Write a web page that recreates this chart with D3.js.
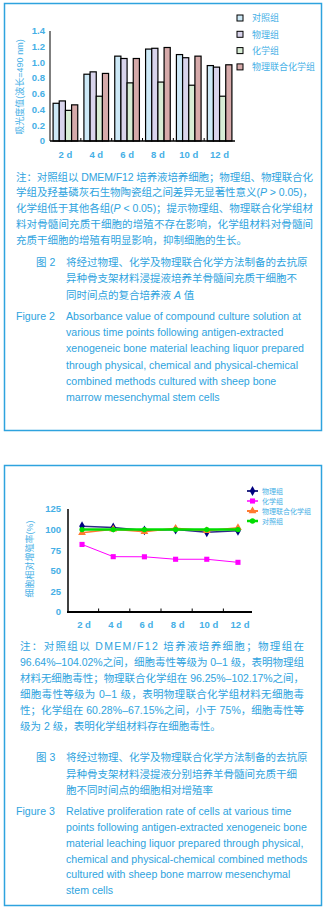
<!DOCTYPE html>
<html>
<head>
<meta charset="utf-8">
<script src="https://cdn.jsdelivr.net/npm/d3@7"></script>
<style>
body { margin: 0; background: #fff; }
</style>
</head>
<body>
<script>
var W = 327, H = 913;

// Figure 2: absorbance (bars)
var days = ["2 d", "4 d", "6 d", "8 d", "10 d", "12 d"];
var barGroups = ["对照组", "物理组", "化学组", "物理联合化学组"];
var ctrlAbs = [0.48, 0.85, 1.08, 1.17, 1.10, 0.96];
var physAbs = [0.51, 0.88, 1.05, 1.18, 1.06, 0.94];
var chemAbs = [0.39, 0.57, 0.74, 0.75, 0.71, 0.57];
var combAbs = [0.46, 0.86, 1.05, 1.19, 1.08, 0.97];
var absTicks = [0, 0.2, 0.4, 0.6, 0.8, 1.0, 1.2, 1.4];

// Figure 3: relative proliferation rate (lines)
var lineGroups = ["物理组", "化学组", "物理联合化学组", "对照组"];
var physRate = [104.02, 102.5, 99, 100, 96.64, 98.5];
var chemRate = [82, 67.15, 67, 64, 64, 60.28];
var combRate = [96.25, 100.5, 97.5, 101.5, 98.5, 102.17];
var ctrlRate = [100, 100, 100, 100, 100, 100];
var rateTicks = [0, 25, 50, 75, 100, 125];

var blue = "#2ea3de";
var tickBlue = "#45afe6";
var barColors = ["#cde9f7", "#d9d4ec", "#d8edd5", "#d6aaaa"];
var lineColors = ["#2b2b85", "#ff00ff", "#ff7a30", "#00dd00"];
var markColors = ["#000080", "#ff00ff", "#ff7a30", "#00dd00"];
var cn = "'Liberation Sans', 'Noto Sans CJK SC', sans-serif";
var en = "'Liberation Sans', Arial, sans-serif";

var svg = d3.select("body").append("svg")
    .attr("width", W)
    .attr("height", H);

// frames
svg.append("rect").attr("x", 4.5).attr("y", 3.5).attr("width", 317).attr("height", 427)
    .attr("fill", "none").attr("stroke", blue).attr("stroke-width", 1.5);
svg.append("rect").attr("x", 4.5).attr("y", 465.5).attr("width", 317).attr("height", 440)
    .attr("fill", "none").attr("stroke", blue).attr("stroke-width", 1.5);

// ---------- chart 1 ----------
var x0 = d3.scaleBand().domain(days).range([50, 235]).paddingInner(0.2).paddingOuter(0.1);
var x1 = d3.scaleBand().domain(barGroups).range([0, x0.bandwidth()]);
var y1 = d3.scaleLinear().domain([0, 1.4]).range([141, 31]);

var absSeries = [ctrlAbs, physAbs, chemAbs, combAbs];
var barData = [];
days.forEach(function(d, i) {
  barGroups.forEach(function(g, j) {
    barData.push({ day: d, group: g, v: absSeries[j][i], c: barColors[j] });
  });
});

svg.selectAll("rect.bar").data(barData).enter()
  .append("rect")
    .attr("class", "bar")
    .attr("x", function(d) { return x0(d.day) + x1(d.group); })
    .attr("width", x1.bandwidth())
    .attr("y", function(d) { return y1(d.v); })
    .attr("height", function(d) { return y1(0) - y1(d.v); })
    .attr("fill", function(d) { return d.c; })
    .attr("stroke", "#000")
    .attr("stroke-width", 1.2);

// axes
svg.append("line").attr("x1", 50).attr("x2", 50).attr("y1", 31).attr("y2", 141)
    .attr("stroke", "#000").attr("stroke-width", 1);
svg.append("line").attr("x1", 50).attr("x2", 235).attr("y1", 141).attr("y2", 141)
    .attr("stroke", "#000").attr("stroke-width", 1.5);
var step1 = x0.step();
days.slice(1).forEach(function(d) {
  var bx = x0(d) - step1 * 0.1;
  svg.append("line").attr("x1", bx).attr("x2", bx).attr("y1", 141).attr("y2", 138)
      .attr("stroke", "#000").attr("stroke-width", 1);
});

svg.selectAll("text.ytick1").data(absTicks).enter()
  .append("text")
    .attr("class", "ytick1")
    .attr("x", 45)
    .attr("y", function(d) { return y1(d); })
    .attr("dy", "0.35em")
    .attr("text-anchor", "end")
    .style("font", "bold 9.5px " + en)
    .style("fill", tickBlue)
    .text(function(d) { return d === 0 ? "0" : d3.format(".1f")(d); });

svg.selectAll("text.xtick1").data(days).enter()
  .append("text")
    .attr("class", "xtick1")
    .attr("x", function(d) { return x0(d) + x0.bandwidth() / 2; })
    .attr("y", 157.5)
    .attr("text-anchor", "middle")
    .style("font", "bold 9.5px " + en)
    .style("fill", tickBlue)
    .text(function(d) { return d; });

svg.append("text")
    .attr("transform", "translate(23,87) rotate(-90)")
    .attr("text-anchor", "middle")
    .style("font", "9px " + cn)
    .style("fill", tickBlue)
    .text("吸光度值(波长=490 nm)");

// legend 1
var leg1 = svg.selectAll("g.leg1").data(barGroups).enter()
  .append("g")
    .attr("class", "leg1")
    .attr("transform", function(d, i) { return "translate(237," + (18 + i * 16.3) + ")"; });
leg1.append("rect").attr("x", 0).attr("y", -3).attr("width", 6).attr("height", 6)
    .attr("fill", function(d, i) { return barColors[i]; })
    .attr("stroke", "#000").attr("stroke-width", 1);
leg1.append("text").attr("x", 15).attr("y", 3.2)
    .style("font", "9px " + cn).style("fill", tickBlue)
    .text(function(d) { return d; });

// ---------- chart 2 ----------
var xp = d3.scalePoint().domain(days).range([68, 252]).padding(0.45);
var y2 = d3.scaleLinear().domain([0, 125]).range([612, 509]);

svg.append("line").attr("x1", 68).attr("x2", 68).attr("y1", 509).attr("y2", 612)
    .attr("stroke", "#000").attr("stroke-width", 1.5);
svg.append("line").attr("x1", 67).attr("x2", 252).attr("y1", 612).attr("y2", 612)
    .attr("stroke", "#000").attr("stroke-width", 2);
days.slice(1).forEach(function(d, i) {
  var bx = (xp(days[i]) + xp(d)) / 2 + 1;
  svg.append("line").attr("x1", bx).attr("x2", bx).attr("y1", 612).attr("y2", 608.5)
      .attr("stroke", "#000").attr("stroke-width", 1);
});

svg.selectAll("text.ytick2").data(rateTicks).enter()
  .append("text")
    .attr("class", "ytick2")
    .attr("x", 61)
    .attr("y", function(d) { return y2(d); })
    .attr("dy", "0.35em")
    .attr("text-anchor", "end")
    .style("font", "bold 9.5px " + en)
    .style("fill", tickBlue)
    .text(function(d) { return d; });

svg.selectAll("text.xtick2").data(days).enter()
  .append("text")
    .attr("class", "xtick2")
    .attr("x", function(d) { return xp(d) + 2; })
    .attr("y", 627.5)
    .attr("text-anchor", "middle")
    .style("font", "bold 9.5px " + en)
    .style("fill", tickBlue)
    .text(function(d) { return d; });

svg.append("text")
    .attr("transform", "translate(33,559) rotate(-90)")
    .attr("text-anchor", "middle")
    .style("font", "9px " + cn)
    .style("fill", tickBlue)
    .text("细胞相对增殖率(%)");

var rateSeries = [physRate, chemRate, combRate, ctrlRate];
var symbols = [d3.symbolDiamond, d3.symbolSquare, d3.symbolTriangle, d3.symbolCircle];
var symSize = [28, 26, 26, 22];
var lineW = [1.5, 1, 1.5, 2.5];
var line = d3.line()
    .x(function(d, i) { return xp(days[i]); })
    .y(function(d) { return y2(d); });

rateSeries.forEach(function(s, k) {
  svg.append("path")
      .attr("d", line(s))
      .attr("fill", "none")
      .attr("stroke", lineColors[k])
      .attr("stroke-width", lineW[k]);
  svg.selectAll("path.mk" + k).data(s).enter()
    .append("path")
      .attr("class", "mk" + k)
      .attr("transform", function(d, i) { return "translate(" + xp(days[i]) + "," + y2(d) + ")"; })
      .attr("d", d3.symbol().type(symbols[k]).size(symSize[k]))
      .attr("fill", markColors[k]);
});

// legend 2
var leg2 = svg.selectAll("g.leg2").data(lineGroups).enter()
  .append("g")
    .attr("class", "leg2")
    .attr("transform", function(d, i) { return "translate(247," + (491 + i * 10) + ")"; });
leg2.append("line").attr("x1", 0).attr("x2", 11).attr("y1", 0).attr("y2", 0)
    .attr("stroke", function(d, i) { return lineColors[i]; })
    .attr("stroke-width", function(d, i) { return Math.min(lineW[i] + 0.5, 2.5); });
leg2.append("path")
    .attr("transform", "translate(5.5,0)")
    .attr("d", function(d, i) { return d3.symbol().type(symbols[i]).size(symSize[i])(); })
    .attr("fill", function(d, i) { return markColors[i]; });
leg2.append("text").attr("x", 15).attr("y", 2.5)
    .style("font", "7px " + cn).style("fill", tickBlue)
    .text(function(d) { return d; });

// ---------- texts ----------
// segments between "_" are italic
function para(lines, x, y0, lh, font, right) {
  lines.forEach(function(str, i) {
    var t = svg.append("text")
        .attr("x", x)
        .attr("y", y0 + i * lh)
        .style("font", font)
        .style("fill", blue);
    str.split("_").forEach(function(s, k) {
      if (!s) return;
      t.append("tspan").style("font-style", k % 2 ? "italic" : "normal").text(s);
    });
    if (right && i < lines.length - 1) {
      t.attr("textLength", right - x).attr("lengthAdjust", "spacing");
    }
  });
}

var note2 = [
  "注：对照组以 DMEM/F12 培养液培养细胞；物理组、物理联合化",
  "学组及羟基磷灰石生物陶瓷组之间差异无显著性意义(_P_ > 0.05)，",
  "化学组低于其他各组(_P_ < 0.05)；提示物理组、物理联合化学组材",
  "料对骨髓间充质干细胞的增殖不存在影响，化学组材料对骨髓间",
  "充质干细胞的增殖有明显影响，抑制细胞的生长。"
];
para(note2, 16, 180.5, 15.9, "10.5px " + cn, 313);

svg.append("text").attr("x", 36).attr("y", 266).style("font", "10.5px " + cn).style("fill", blue).text("图 2");
para([
  "将经过物理、化学及物理联合化学方法制备的去抗原",
  "异种骨支架材料浸提液培养羊骨髓间充质干细胞不",
  "同时间点的复合培养液 _A_ 值"
], 66, 266, 16.3, "10.5px " + cn);

svg.append("text").attr("x", 16).attr("y", 320.2).style("font", "10.6px " + en).style("fill", blue).text("Figure 2");
para([
  "Absorbance value of compound culture solution at",
  "various time points following antigen-extracted",
  "xenogeneic bone material leaching liquor prepared",
  "through physical, chemical and physical-chemical",
  "combined methods cultured with sheep bone",
  "marrow mesenchymal stem cells"
], 66, 320.2, 16.1, "10.6px " + en);

var note3 = [
  "注：对照组以 DMEM/F12 培养液培养细胞；物理组在",
  "96.64%–104.02%之间，细胞毒性等级为 0–1 级，表明物理组",
  "材料无细胞毒性；物理联合化学组在 96.25%–102.17%之间，",
  "细胞毒性等级为 0–1 级，表明物理联合化学组材料无细胞毒",
  "性；化学组在 60.28%–67.15%之间，小于 75%，细胞毒性等",
  "级为 2 级，表明化学组材料存在细胞毒性。"
];
para(note3, 20, 650.4, 16, "10.5px " + cn, 304);

svg.append("text").attr("x", 36).attr("y", 761.4).style("font", "10.5px " + cn).style("fill", blue).text("图 3");
para([
  "将经过物理、化学及物理联合化学方法制备的去抗原",
  "异种骨支架材料浸提液分别培养羊骨髓间充质干细",
  "胞不同时间点的细胞相对增殖率"
], 66, 761.4, 16.2, "10.5px " + cn);

svg.append("text").attr("x", 16).attr("y", 815.2).style("font", "10.6px " + en).style("fill", blue).text("Figure 3");
para([
  "Relative proliferation rate of cells at various time",
  "points following antigen-extracted xenogeneic bone",
  "material leaching liquor prepared through physical,",
  "chemical and physical-chemical combined methods",
  "cultured with sheep bone marrow mesenchymal",
  "stem cells"
], 66, 815.2, 15.8, "10.6px " + en);
</script>
</body>
</html>
